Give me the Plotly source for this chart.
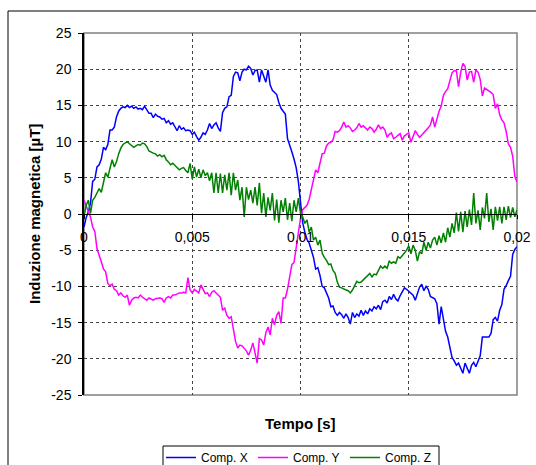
import numpy as np
import plotly.graph_objects as go

# Campionamento: 201 punti, passo 0,1 ms (un periodo a 50 Hz)
STEP = 0.0001
N = 201

comp_x = [
    -1.8, -0.5, 0.3, 1.5, 4.5, 4.8, 6.5, 6.8, 7.6, 9.2,
    8.9, 9.6, 11.6, 11.6, 12.0, 13.4, 14.2, 14.6, 14.8, 14.7,
    15.0, 14.7, 14.9, 14.6, 14.8, 14.5, 14.6, 14.4, 14.9, 14.3,
    13.9, 13.9, 13.3, 13.8, 13.5, 13.4, 13.1, 13.2, 12.6, 12.9,
    12.4, 12.6, 12.0, 11.5, 12.2, 11.7, 11.9, 11.5, 11.6, 11.5,
    11.0, 11.3, 10.7, 10.2, 10.6, 11.2, 11.0, 11.6, 12.5, 11.8,
    12.3, 12.6, 11.9, 11.4, 14.0, 14.6, 14.8, 16.2, 16.4, 19.0,
    19.6, 19.5, 18.4, 19.6, 20.0, 19.9, 20.4, 20.1, 19.2, 19.8,
    19.9, 18.2, 19.9, 19.0, 18.2, 19.9, 17.8, 17.1, 16.8, 16.5,
    15.4, 14.6, 14.2, 13.8, 10.4, 9.6, 8.6, 7.6, 6.4, 4.5,
    1.5, -1.2, -2.5, -3.5, -4.0, -4.9, -6.0, -7.6, -7.4, -8.5,
    -10.0, -10.2, -10.8, -11.6, -12.8, -12.7, -13.6, -14.0, -13.6, -13.9,
    -14.4, -13.8, -14.3, -15.2, -13.6, -14.3, -13.8, -14.1, -13.3, -14.0,
    -13.4, -13.8, -13.1, -13.4, -12.8, -13.1, -12.6, -13.2, -12.1, -11.9,
    -12.3, -11.4, -11.8, -11.1, -11.7, -12.0, -11.3, -10.8, -10.2, -10.4,
    -10.7, -10.9, -11.2, -11.9, -10.9, -10.1, -9.7, -10.6, -10.0, -10.4,
    -11.4, -11.5, -11.7, -12.4, -15.2, -12.8, -14.5, -16.2, -17.0, -18.6,
    -19.8, -20.3, -20.9, -20.6, -21.3, -22.0, -20.6, -21.2, -22.0, -20.9,
    -20.5, -21.1, -20.4, -19.6, -17.0, -17.0, -16.9, -17.0, -16.5, -14.6,
    -14.3, -14.8, -13.3, -12.5, -10.4, -9.9, -9.2, -8.6, -5.6, -4.9,
    -4.5,
]

comp_y = [
    1.9, 1.2, 0.5, -0.4, -1.8, -2.4, -4.8, -5.6, -6.6, -7.6,
    -8.0, -9.6, -9.9, -9.7, -10.4, -10.6, -11.2, -10.9, -11.3, -11.5,
    -11.2, -12.6, -11.9, -11.6, -11.5, -11.6, -11.2, -11.5, -11.7, -11.9,
    -11.6, -11.7, -11.9, -11.7, -11.6, -11.6, -11.7, -12.2, -11.6, -11.4,
    -11.6, -11.2, -11.2, -11.0, -10.9, -10.9, -10.8, -10.9, -8.8, -10.5,
    -10.9, -10.4, -10.6, -10.9, -9.8, -10.5, -11.0, -10.9, -11.4, -10.8,
    -10.6, -10.9, -11.2, -11.5, -13.3, -13.0, -14.0, -14.4, -14.2, -16.0,
    -17.6, -18.5, -18.1, -18.2, -18.5, -18.9, -19.5, -18.8, -17.8, -19.1,
    -20.6, -17.2, -17.4, -18.1, -16.4, -15.6, -16.7, -14.4, -15.3, -14.0,
    -13.5, -15.1, -11.6, -11.6, -10.4, -8.7, -7.0, -6.7, -4.8, -2.8,
    -0.6, 0.6, 0.9, 1.2, 2.0, 3.3, 5.0, 6.1, 5.7, 7.2,
    8.3, 8.4, 9.4, 9.8, 9.9, 10.2, 11.4, 11.3, 11.5, 12.0,
    12.7, 12.0, 12.2, 11.9, 11.4, 11.6, 11.9, 12.5, 12.0, 12.2,
    11.9, 11.6, 12.0, 11.8, 11.3, 11.7, 12.3, 11.8, 12.0, 11.6,
    10.6, 11.0, 11.2, 10.4, 10.6, 10.9, 11.1, 10.2, 10.8, 11.0,
    11.2, 9.9, 10.6, 11.5, 11.0, 10.6, 10.9, 11.2, 11.6, 11.9,
    12.3, 13.4, 12.0, 13.3, 14.2, 14.9, 16.4, 16.9, 17.3, 18.4,
    19.5, 19.8, 19.8, 17.6, 19.6, 20.8, 20.4, 18.5, 19.6, 19.7,
    18.2, 19.9, 19.6, 18.6, 16.3, 17.4, 17.2, 17.1, 16.8, 16.5,
    14.6, 15.2, 13.7, 13.0, 12.6, 11.4, 9.7, 9.2, 8.0, 5.2,
    4.4,
]

comp_z = [
    -0.4, 1.2, 1.9, 0.1, 1.9, 2.3, 2.9, 3.5, 3.0, 4.6,
    5.7, 5.1, 6.2, 7.5, 6.5, 7.2, 8.3, 9.1, 9.6, 9.8,
    10.0, 9.7, 9.5, 9.2, 9.4, 9.6, 9.5, 9.8, 9.7, 9.3,
    8.7, 8.5, 8.4, 8.3, 8.0, 8.2, 7.9, 8.1, 7.5, 7.2,
    6.8, 7.0, 6.7, 6.5, 6.1, 6.3, 6.4, 6.0, 5.7, 7.0,
    4.8, 6.5, 5.1, 6.2, 5.0, 6.1, 5.3, 5.7, 4.6, 5.7,
    2.9, 5.7, 2.9, 5.6, 2.9, 5.4, 3.3, 5.7, 2.6, 5.7,
    3.3, 4.7, 1.9, 3.7, -0.4, 3.7, 2.0, 3.3, 1.5, 3.7,
    1.2, 4.3, 0.1, 2.9, -0.4, 2.3, 0.5, 2.9, -0.9, 2.0,
    -1.2, 1.9, 0.3, 2.2, -0.8, 1.5, -1.0, 1.9, 0.3, 2.2,
    0.1, -0.4, -1.3, -0.8, -2.5, -1.8, -3.6, -3.2, -4.3, -3.6,
    -5.4, -6.0, -6.4, -7.0, -6.9, -7.8, -8.2, -9.4, -10.1, -10.2,
    -10.4, -10.5, -10.6, -10.9, -10.5, -9.8, -9.3, -9.5, -9.4, -9.1,
    -8.8, -8.5, -8.2, -8.7, -8.3, -8.4, -7.7, -7.2, -7.5, -7.2,
    -7.5, -6.5, -6.8, -6.6, -6.8, -5.9, -6.1, -5.8, -5.4, -5.0,
    -4.4, -5.5, -4.3, -5.0, -6.5, -5.2, -5.5, -3.9, -5.0, -3.9,
    -4.7, -3.6, -3.2, -4.3, -3.0, -4.0, -2.6, -3.9, -1.9, -3.2,
    -1.3, -2.6, 0.2, -2.4, 0.3, -2.5, 0.4, -1.8, 0.6, -1.5,
    2.9, -1.3, 0.5, -2.2, 0.9, -0.6, 2.9, -1.1, 0.7, -2.2,
    1.0, -0.9, 1.0, -1.3, 1.0, -0.8, 1.1, -0.5, 0.9, -0.4,
    0.6,
]

series_names = ["Comp. X", "Comp. Y", "Comp. Z"]
series_colors = ["#0000FF", "#FF00FF", "#008000"]

x_tick_vals = [0, 0.005, 0.01, 0.015, 0.02]
x_tick_text = ["0", "0,005", "0,01", "0,015", "0,02"]
y_tick_vals = [-25, -20, -15, -10, -5, 0, 5, 10, 15, 20, 25]
y_tick_text = ["-25", "-20", "-15", "-10", "-5", "0", "5", "10", "15", "20", "25"]

t = np.arange(N) * STEP

fig = go.Figure()
for name, vals, col in zip(series_names, [comp_x, comp_y, comp_z], series_colors):
    fig.add_trace(go.Scatter(
        x=t, y=vals, mode="lines", name=name,
        line=dict(color=col, width=1.5),
    ))

FONT = "Liberation Sans, Arial, sans-serif"

# Dimensioni area del grafico in pixel (per convertire le posizioni in coordinate "paper")
PLOT_W = 536 - 84 - 19
PLOT_H = 465 - 33 - 70


def px_x(px):
    return (px - 84) / PLOT_W


def px_y(py):
    return (395 - py) / PLOT_H


fig.update_layout(
    width=536, height=465,
    margin=dict(l=84, r=19, t=33, b=70, autoexpand=False),
    paper_bgcolor="white",
    plot_bgcolor="white",
    font=dict(family=FONT, color="black"),
    showlegend=True,
    legend=dict(
        orientation="h",
        x=px_x(161), xanchor="left",
        y=px_y(443), yanchor="top",
        borderwidth=0,
        font=dict(family=FONT, size=12, color="black"),
        entrywidth=47, entrywidthmode="pixels",
        itemwidth=30,
        bgcolor="rgba(0,0,0,0)",
    ),
    xaxis=dict(
        range=[0, 0.02],
        tickvals=x_tick_vals, ticktext=x_tick_text,
        tickfont=dict(family=FONT, size=14, color="black"),
        anchor="free", position=0.5,
        showline=True, linecolor="black", linewidth=1,
        ticks="outside", ticklen=4, tickcolor="black",
        ticklabelstandoff=6,
        showgrid=True, gridcolor="#444444", griddash="dot", gridwidth=1,
        zeroline=False,
    ),
    yaxis=dict(
        range=[-25, 25],
        tickvals=y_tick_vals, ticktext=y_tick_text,
        tickfont=dict(family=FONT, size=14, color="black"),
        showline=True, linecolor="black", linewidth=1.5,
        ticks="outside", ticklen=4, tickcolor="black",
        ticklabelstandoff=4,
        showgrid=True, gridcolor="#444444", griddash="dot", gridwidth=1,
        zeroline=False,
    ),
    shapes=[
        # bordo area del grafico
        dict(type="rect", xref="paper", yref="paper", x0=0, x1=1, y0=0, y1=1,
             line=dict(color="#808080", width=1.5), layer="below"),
        # cornice esterna del grafico
        dict(type="rect", xref="paper", yref="paper",
             x0=px_x(8), x1=px_x(545), y0=px_y(480), y1=px_y(11),
             line=dict(color="black", width=1)),
        # riquadro della legenda
        dict(type="rect", xref="paper", yref="paper",
             x0=px_x(163), x1=px_x(439), y0=px_y(475), y1=px_y(446),
             line=dict(color="black", width=1), fillcolor="white", layer="below"),
    ],
    annotations=[
        dict(text="<b>Tempo [s]</b>", xref="paper", yref="paper",
             x=0.5, y=px_y(423), xanchor="center", yanchor="middle",
             showarrow=False, font=dict(family=FONT, size=15, color="black")),
        dict(text="<b>Induzione magnetica [µT]</b>", xref="paper", yref="paper",
             x=px_x(34), y=0.5, xanchor="center", yanchor="middle", textangle=-90,
             showarrow=False, font=dict(family=FONT, size=15, color="black")),
    ],
)

fig.write_html("out.html")
